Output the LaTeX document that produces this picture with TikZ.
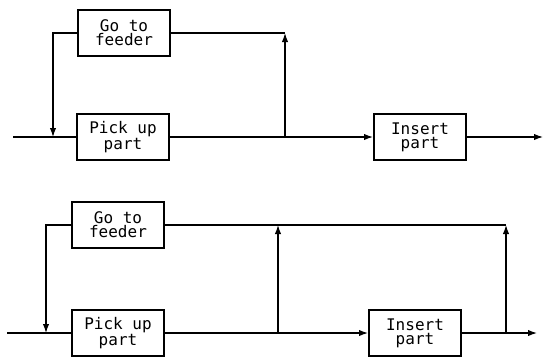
\documentclass[tikz,border=0pt]{standalone}
\usepackage{fontspec}
\setmonofont{DejaVu Sans Mono}
\usepackage{tikz}
\usetikzlibrary{arrows.meta}

\begin{document}
\begin{tikzpicture}[
  x=0.5pt, y=-0.5pt,
  font=\ttfamily\fontsize{8}{7}\selectfont,
  box/.style={draw, line width=1pt, align=center, minimum width=46pt, minimum height=23pt, inner sep=1pt},
  ln/.style={line width=0.6pt},
  ar/.style={ln, -{Latex[length=4.5pt, width=3.2pt]}}
]
  \useasboundingbox (0,0) rectangle (545,360);
  % upper plan
  \node[box] (feedA) at (124,33) {Go to\\feeder};
  \node[box] (pickA) at (123,137) {Pick up\\part};
  \node[box] (insA) at (420,137) {Insert\\part};
  \coordinate (inA) at (13,137);
  \coordinate (splitA) at (53,137);
  \coordinate (joinA) at (285,137);
  \coordinate (cornerA) at (285,33);
  \coordinate (outA) at (543,137);
  \draw[ln] (inA) -- (pickA);
  \draw[ar] (feedA) -| (splitA);
  \draw[ar] (pickA) -- (insA);
  \draw[ar] (joinA) -- (cornerA);
  \draw[ln] (feedA) -- (cornerA);
  \draw[ar] (insA) -- (outA);
  % lower plan
  \node[box] (feedB) at (118,225) {Go to\\feeder};
  \node[box] (pickB) at (118,333) {Pick up\\part};
  \node[box] (insB) at (415,333) {Insert\\part};
  \coordinate (inB) at (7,333);
  \coordinate (splitB) at (46,333);
  \coordinate (joinB) at (278,333);
  \coordinate (cornerB) at (278,225);
  \coordinate (tapB) at (506,333);
  \coordinate (cornerC) at (506,225);
  \coordinate (outB) at (537,333);
  \draw[ln] (inB) -- (pickB);
  \draw[ar] (feedB) -| (splitB);
  \draw[ar] (pickB) -- (insB);
  \draw[ar] (joinB) -- (cornerB);
  \draw[ar] (tapB) -- (cornerC);
  \draw[ln] (feedB) -- (cornerC);
  \draw[ar] (insB) -- (outB);
\end{tikzpicture}
\end{document}
